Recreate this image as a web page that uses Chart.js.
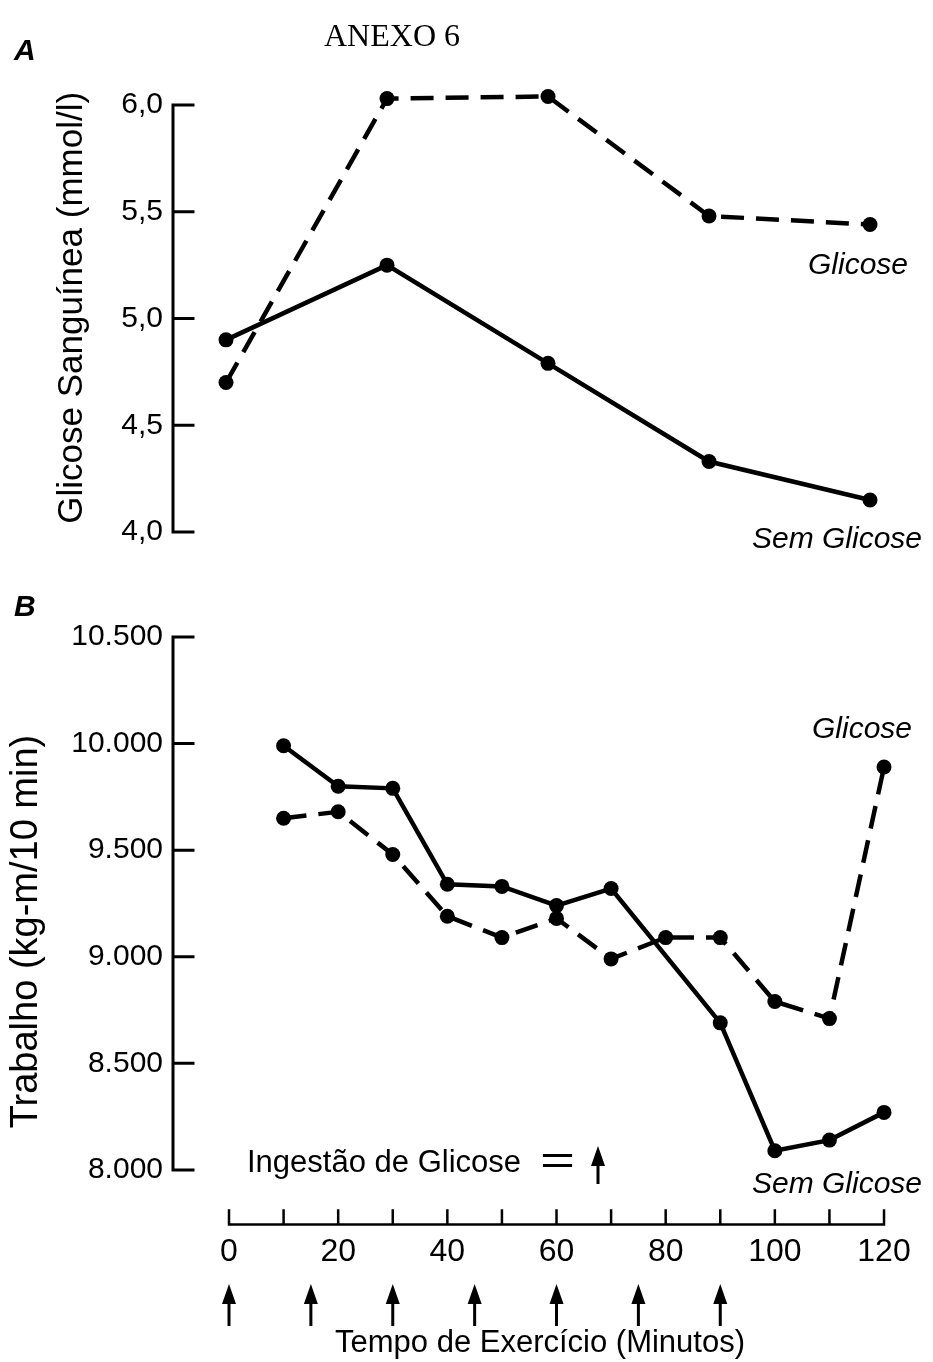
<!DOCTYPE html>
<html><head><meta charset="utf-8">
<script src="https://cdn.jsdelivr.net/npm/chart.js@4.4.1/dist/chart.umd.min.js"></script>
<style>
html,body{margin:0;padding:0;background:#fff;}
#wrap{position:relative;width:933px;height:1362px;overflow:hidden;background:#fff;}
canvas{position:absolute;left:0;}
.t{position:absolute;white-space:nowrap;line-height:1;transform:translateY(-50%);color:#000;font-family:"Liberation Sans",Arial,sans-serif;}
.i{font-style:italic;font-size:30px;}
</style></head><body>
<div id="wrap">
<canvas id="cA" width="933" height="560" style="top:0"></canvas>
<canvas id="cB" width="933" height="802" style="top:560px"></canvas>
<div class="t" style="left:324px;top:35px;font-family:'Liberation Serif','Times New Roman',serif;font-size:32px;">ANEXO 6</div>
<div class="t" style="left:14px;top:50px;font-weight:bold;font-style:italic;font-size:30px;">A</div>
<div class="t" style="left:14px;top:606px;font-weight:bold;font-style:italic;font-size:30px;">B</div>
<div class="t i" style="left:808px;top:264px">Glicose</div>
<div class="t i" style="left:752px;top:538px">Sem Glicose</div>
<div class="t i" style="left:812px;top:728px">Glicose</div>
<div class="t i" style="left:752px;top:1183px">Sem Glicose</div>
<div class="t" style="left:247px;top:1161px;font-size:31px">Ingestão de Glicose</div>
<div class="t" style="left:540px;top:1160px;font-size:40px;transform:translateY(-50%) scaleX(1.5);transform-origin:left center;">=</div>
<svg style="position:absolute;left:590px;top:1146px" width="16" height="38" viewBox="0 0 16 38"><polygon points="8,0 15,20 1,20" fill="#000"/><rect x="6.5" y="16" width="3" height="22" fill="#000"/></svg>
</div>
<script>
// ---------- data ----------
const timesA = [0, 30, 60, 90, 120];
const glucoseWith = [4.70, 6.03, 6.04, 5.48, 5.44];      // Glicose (dashed)
const glucoseWithout = [4.90, 5.25, 4.79, 4.33, 4.15];   // Sem Glicose (solid)
const yTickValuesA = [4.0, 4.5, 5.0, 5.5, 6.0];
const yTickLabelsA = ['4,0', '4,5', '5,0', '5,5', '6,0'];

const timesBWith = [10, 20, 30, 40, 50, 60, 70, 80, 90, 100, 110, 120];
const workWith = [9650, 9680, 9480, 9190, 9090, 9180, 8990, 9090, 9090, 8790, 8710, 9890];
const timesBWithout = [10, 20, 30, 40, 50, 60, 70, 90, 100, 110, 120];
const workWithout = [9990, 9800, 9790, 9340, 9330, 9240, 9320, 8690, 8090, 8140, 8270];
const yTickValuesB = [8000, 8500, 9000, 9500, 10000, 10500];
const yTickLabelsB = ['8.000', '8.500', '9.000', '9.500', '10.000', '10.500'];
const xTickValues = [0, 10, 20, 30, 40, 50, 60, 70, 80, 90, 100, 110, 120];
const xTickLabels = ['0', '', '20', '', '40', '', '60', '', '80', '', '100', '', '120'];
const ingestionTimes = [0, 15, 30, 45, 60, 75, 90];

// ---------- helpers ----------
const pts = (xs, ys) => xs.map((x, i) => ({x: x, y: ys[i]}));
const FONT = '"Liberation Sans", Arial, sans-serif';

const axisPlugin = {
  id: 'axisDraw',
  beforeDatasetsDraw(chart, args, o) {
    const ctx = chart.ctx, ys = chart.scales.y, xs = chart.scales.x;
    ctx.save();
    ctx.strokeStyle = '#000';
    ctx.lineWidth = 3;
    ctx.lineCap = 'square';
    const x0 = chart.chartArea.left;
    const vals = o.yTicks;
    ctx.beginPath();
    ctx.moveTo(x0, ys.getPixelForValue(vals[0]));
    ctx.lineTo(x0, ys.getPixelForValue(vals[vals.length - 1]));
    vals.forEach(v => {
      const p = ys.getPixelForValue(v);
      ctx.moveTo(x0, p); ctx.lineTo(x0 + 20, p);
    });
    ctx.stroke();
    if (o.xTicks) {
      const y0 = chart.chartArea.bottom - 1.5;
      ctx.lineWidth = 2.5;
      ctx.beginPath();
      ctx.moveTo(xs.getPixelForValue(o.xTicks[0]), y0);
      ctx.lineTo(xs.getPixelForValue(o.xTicks[o.xTicks.length - 1]), y0);
      o.xTicks.forEach(v => {
        const p = xs.getPixelForValue(v);
        ctx.moveTo(p, y0); ctx.lineTo(p, y0 - 14);
      });
      ctx.stroke();
    }
    ctx.restore();
  },
  afterDraw(chart, args, o) {
    if (!o.arrows) return;
    const ctx = chart.ctx, xs = chart.scales.x;
    const b = chart.chartArea.bottom;
    ctx.save();
    ctx.fillStyle = '#000';
    o.arrows.forEach(t => {
      const x = xs.getPixelForValue(t);
      ctx.beginPath();
      ctx.moveTo(x, b + 58);
      ctx.lineTo(x + 7, b + 78);
      ctx.lineTo(x - 7, b + 78);
      ctx.closePath();
      ctx.fill();
      ctx.fillRect(x - 1.5, b + 72, 3, 28);
    });
    ctx.restore();
  }
};

const lineDs = (data, dashed) => ({
  data: data,
  borderColor: '#000',
  backgroundColor: '#000',
  borderWidth: 4.5,
  borderDash: dashed ? [23, 12] : [],
  pointRadius: 7.5,
  pointBackgroundColor: '#000',
  pointBorderWidth: 0,
  tension: 0,
  fill: false,
  clip: false
});

// ---------- Chart A ----------
new Chart(document.getElementById('cA'), {
  type: 'line',
  data: { datasets: [lineDs(pts(timesA, glucoseWith), true), lineDs(pts(timesA, glucoseWithout), false)] },
  options: {
    responsive: false, animation: false,
    layout: { padding: { top: 83.65, bottom: 28, left: 0, right: 10 } },
    plugins: { legend: { display: false }, tooltip: { enabled: false },
      axisDraw: { yTicks: yTickValuesA } },
    scales: {
      x: { type: 'linear', display: false, min: -9.88, max: 129.87 },
      y: {
        type: 'linear', min: 4.0, max: 6.1,
        afterFit: s => { s.width = 173; },
        afterBuildTicks: s => { s.ticks = yTickValuesA.map(v => ({value: v})); },
        grid: { display: false, drawTicks: false },
        border: { display: false },
        ticks: { padding: 10, color: '#000', font: { family: FONT, size: 30 },
          callback: (v) => yTickLabelsA[yTickValuesA.indexOf(v)] },
        title: { display: true, text: 'Glicose Sanguínea (mmol/l)', color: '#000',
          font: { family: FONT, size: 35 }, padding: { top: 51, bottom: 0 } }
      }
    }
  },
  plugins: [axisPlugin]
});

// ---------- Chart B ----------
new Chart(document.getElementById('cB'), {
  type: 'line',
  data: { datasets: [lineDs(pts(timesBWith, workWith), true), lineDs(pts(timesBWithout, workWithout), false)] },
  options: {
    responsive: false, animation: false,
    layout: { padding: { top: 77, bottom: 0, left: 0, right: 26 } },
    plugins: { legend: { display: false }, tooltip: { enabled: false },
      axisDraw: { yTicks: yTickValuesB, xTicks: xTickValues, arrows: ingestionTimes } },
    scales: {
      x: {
        type: 'linear', min: -10.26, max: 124.21,
        afterFit: s => { s.height = 136; },
        afterBuildTicks: s => { s.ticks = xTickValues.map(v => ({value: v})); },
        grid: { display: false, drawTicks: false },
        border: { display: false },
        ticks: { padding: 7, autoSkip: false, maxRotation: 0, color: '#000',
          font: { family: FONT, size: 32 },
          callback: (v) => xTickLabels[xTickValues.indexOf(v)] },
        title: { display: true, text: 'Tempo de Exercício (Minutos)', color: '#000',
          font: { family: FONT, size: 31 }, padding: { top: 0, bottom: 0 } }
      },
      y: {
        type: 'linear', min: 7737, max: 10500,
        afterFit: s => { s.width = 173; },
        afterBuildTicks: s => { s.ticks = yTickValuesB.map(v => ({value: v})); },
        grid: { display: false, drawTicks: false },
        border: { display: false },
        ticks: { padding: 10, color: '#000', font: { family: FONT, size: 30 },
          callback: (v) => yTickLabelsB[yTickValuesB.indexOf(v)] },
        title: { display: true, text: 'Trabalho (kg-m/10 min)', color: '#000',
          font: { family: FONT, size: 38 }, padding: { top: 4, bottom: 0 } }
      }
    }
  },
  plugins: [axisPlugin]
});
</script>
</body></html>
